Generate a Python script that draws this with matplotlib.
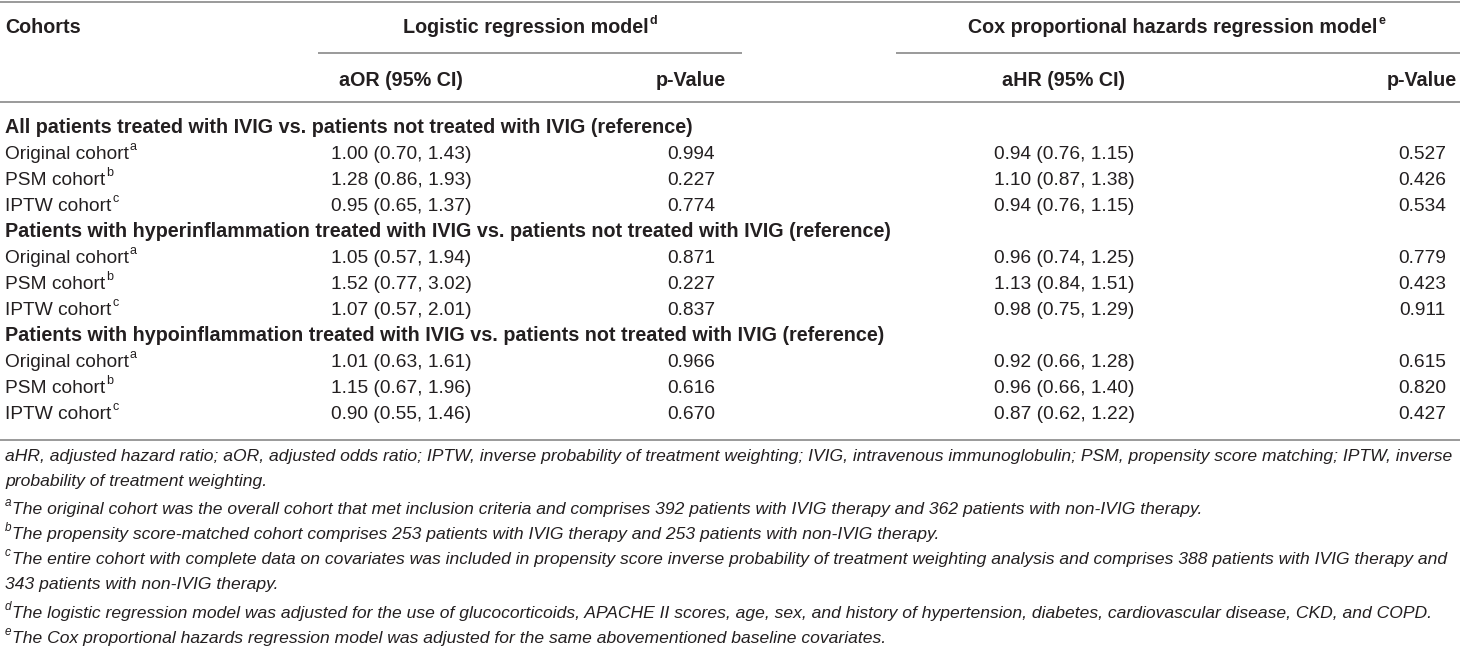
import matplotlib
matplotlib.use('Agg')
import matplotlib.pyplot as plt

# ---------------- data ----------------
group_headers = ["Logistic regression model", "Cox proportional hazards regression model"]
group_sups = ["d", "e"]
col_headers = ["Cohorts", "aOR (95% CI)", "p-Value", "aHR (95% CI)", "p-Value"]
sections = [
    "All patients treated with IVIG vs. patients not treated with IVIG (reference)",
    "Patients with hyperinflammation treated with IVIG vs. patients not treated with IVIG (reference)",
    "Patients with hypoinflammation treated with IVIG vs. patients not treated with IVIG (reference)",
]
cohorts = ["Original cohort", "PSM cohort", "IPTW cohort"]
cohort_sups = ["a", "b", "c"]
aor = [["1.00 (0.70, 1.43)", "1.28 (0.86, 1.93)", "0.95 (0.65, 1.37)"],
       ["1.05 (0.57, 1.94)", "1.52 (0.77, 3.02)", "1.07 (0.57, 2.01)"],
       ["1.01 (0.63, 1.61)", "1.15 (0.67, 1.96)", "0.90 (0.55, 1.46)"]]
p_logistic = [["0.994", "0.227", "0.774"],
              ["0.871", "0.227", "0.837"],
              ["0.966", "0.616", "0.670"]]
ahr = [["0.94 (0.76, 1.15)", "1.10 (0.87, 1.38)", "0.94 (0.76, 1.15)"],
       ["0.96 (0.74, 1.25)", "1.13 (0.84, 1.51)", "0.98 (0.75, 1.29)"],
       ["0.92 (0.66, 1.28)", "0.96 (0.66, 1.40)", "0.87 (0.62, 1.22)"]]
p_cox = [["0.527", "0.426", "0.534"],
         ["0.779", "0.423", "0.911"],
         ["0.615", "0.820", "0.427"]]
footnotes = [
    ("", "aHR, adjusted hazard ratio; aOR, adjusted odds ratio; IPTW, inverse probability of treatment weighting; IVIG, intravenous immunoglobulin; PSM, propensity score matching; IPTW, inverse"),
    ("", "probability of treatment weighting."),
    ("a", "The original cohort was the overall cohort that met inclusion criteria and comprises 392 patients with IVIG therapy and 362 patients with non-IVIG therapy."),
    ("b", "The propensity score-matched cohort comprises 253 patients with IVIG therapy and 253 patients with non-IVIG therapy."),
    ("c", "The entire cohort with complete data on covariates was included in propensity score inverse probability of treatment weighting analysis and comprises 388 patients with IVIG therapy and"),
    ("", "343 patients with non-IVIG therapy."),
    ("d", "The logistic regression model was adjusted for the use of glucocorticoids, APACHE II scores, age, sex, and history of hypertension, diabetes, cardiovascular disease, CKD, and COPD."),
    ("e", "The Cox proportional hazards regression model was adjusted for the same abovementioned baseline covariates."),
]

# ---------------- layout ----------------
W, H = 1460, 664
DPI = 100
FAM = ['Liberation Sans', 'DejaVu Sans']
TXT = '#231f20'
LINE = '#9a9a9a'
FS = 13.8      # regular body
BFS = 14.2     # bold
SUPFS = 9.0
FNFS = 12.6

fig = plt.figure(figsize=(W / DPI, H / DPI), dpi=DPI)
ax = fig.add_axes([0, 0, 1, 1])
ax.set_xlim(0, W)
ax.set_ylim(H, 0)
ax.axis('off')
renderer = fig.canvas.get_renderer()


def width_of(t):
    return t.get_window_extent(renderer=renderer).width


def put(x, y, s, sup=None, ha='left', weight='normal', style='normal', size=FS,
        supsize=SUPFS, lead_sup=None):
    kw = dict(family=FAM, color=TXT, va='baseline', ha='left', fontstyle=style)
    t = ax.text(0, y, s, fontsize=size, fontweight=weight, **kw)
    w = width_of(t)
    sw = 0
    st = None
    lt = None
    lw = 0
    if sup:
        st = ax.text(0, y - size * 0.62, sup, fontsize=supsize, fontweight=weight, **kw)
        sw = width_of(st) + 1
    if lead_sup:
        lt = ax.text(0, y - size * 0.62, lead_sup, fontsize=supsize, fontweight=weight, **kw)
        lw = width_of(lt) + 1
    total = lw + w + sw
    if ha == 'left':
        x0 = x
    elif ha == 'center':
        x0 = x - total / 2
    else:
        x0 = x - total
    if lt is not None:
        lt.set_x(x0)
    t.set_x(x0 + lw)
    if st is not None:
        st.set_x(x0 + lw + w + 1)


def hline(y, x0=0, x1=W, lw=1.4):
    ax.plot([x0, x1], [y, y], color=LINE, lw=lw, solid_capstyle='butt')


x_cohort = 5
x_aor, x_plog, x_ahr, x_pcox = 401, 691, 1064, 1422

hline(1.5)
put(x_cohort, 33, col_headers[0], weight='bold', size=BFS)
put(530, 33, group_headers[0], sup=group_sups[0], ha='center', weight='bold', size=BFS)
put(1177, 33, group_headers[1], sup=group_sups[1], ha='center', weight='bold', size=BFS)
hline(53, 318, 742)
hline(53, 896, W)
put(x_aor, 86, col_headers[1], ha='center', weight='bold', size=BFS)
put(x_plog, 86, col_headers[2], ha='center', weight='bold', size=BFS)
put(x_ahr, 86, col_headers[3], ha='center', weight='bold', size=BFS)
put(x_pcox, 86, col_headers[4], ha='center', weight='bold', size=BFS)
hline(102)

y = 133
step = 26.0
for si, sec in enumerate(sections):
    put(x_cohort, y, sec, weight='bold', size=BFS)
    y += step
    for ri in range(3):
        put(x_cohort, y, cohorts[ri], sup=cohort_sups[ri])
        put(x_aor, y, aor[si][ri], ha='center')
        put(x_plog, y, p_logistic[si][ri], ha='center')
        put(x_ahr, y, ahr[si][ri], ha='center')
        put(x_pcox, y, p_cox[si][ri], ha='center')
        y += step

hline(440)

fy = [461, 486, 514, 539, 564, 589, 618, 643]
for (ls, txt), yy in zip(footnotes, fy):
    put(x_cohort, yy, txt, style='italic', size=FNFS, lead_sup=ls if ls else None,
        supsize=8.5)

fig.savefig('out.png', dpi=DPI)
